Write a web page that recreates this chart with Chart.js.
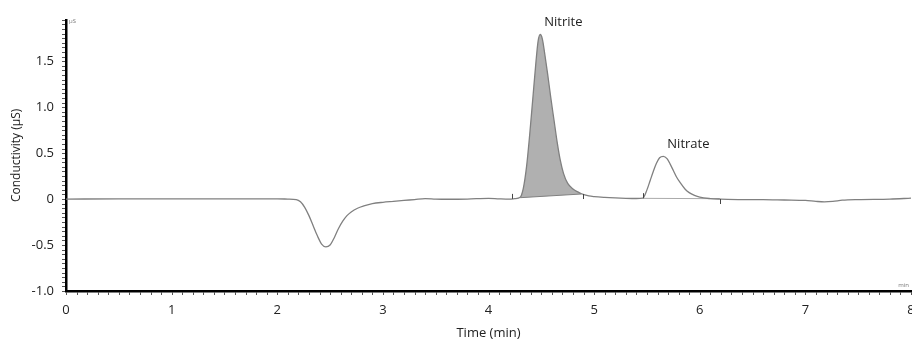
<!DOCTYPE html>
<html>
<head>
<meta charset="utf-8">
<script src="https://cdn.jsdelivr.net/npm/chart.js@4.4.1/dist/chart.umd.min.js"></script>
<style>
  html, body { margin: 0; background: #fff; }
</style>
</head>
<body>
<canvas id="chrom" width="912" height="341"></canvas>
<script>
// chromatogram (time in min, conductivity in µS)
const times = [
  0, 0.5, 1.0, 1.5, 2.0, 2.1, 2.18, 2.22, 2.26, 2.30, 2.34, 2.38, 2.42, 2.46, 2.50,
  2.54, 2.58, 2.62, 2.66, 2.70, 2.76, 2.82, 2.90, 3.0, 3.1, 3.2, 3.3, 3.4, 3.5, 3.6,
  3.8, 4.0, 4.1, 4.2, 4.25, 4.30, 4.33, 4.36, 4.39, 4.42, 4.45, 4.47, 4.49, 4.51, 4.53,
  4.56, 4.59, 4.62, 4.65, 4.68, 4.71, 4.75, 4.80, 4.85, 4.88, 4.95, 5.0, 5.1, 5.2, 5.3,
  5.4, 5.46, 5.50, 5.53, 5.56, 5.59, 5.62, 5.655, 5.69, 5.72, 5.75, 5.78, 5.82, 5.86, 5.90,
  5.95, 6.0, 6.1, 6.2, 6.4, 6.6, 6.8, 7.0, 7.1, 7.18, 7.26, 7.35, 7.5, 7.8, 8.0
];
const signal = [
  0, 0.002, 0.003, 0.002, 0.002, 0.0, -0.005, -0.03, -0.09, -0.18, -0.29, -0.40, -0.49, -0.52, -0.50,
  -0.42, -0.32, -0.24, -0.18, -0.14, -0.10, -0.075, -0.05, -0.035, -0.025, -0.015, -0.005, 0.005, 0.0, -0.002,
  0.0, 0.008, 0.003, 0.0, 0.005, 0.02, 0.12, 0.35, 0.70, 1.10, 1.50, 1.72, 1.79, 1.74, 1.60,
  1.36, 1.10, 0.86, 0.62, 0.42, 0.28, 0.17, 0.11, 0.075, 0.058, 0.035, 0.027, 0.018, 0.012, 0.008,
  0.006, 0.01, 0.10, 0.20, 0.30, 0.39, 0.45, 0.465, 0.44, 0.38, 0.31, 0.24, 0.17, 0.11, 0.07,
  0.04, 0.02, 0.005, 0.0, -0.005, -0.005, -0.01, -0.015, -0.025, -0.03, -0.025, -0.012, -0.005, 0.0, 0.01
];

const xTicks = [0, 1, 2, 3, 4, 5, 6, 7, 8];
const yTicks = [-1.0, -0.5, 0, 0.5, 1.0, 1.5];

// integration windows and peak names
const peakNames = ['Nitrite', 'Nitrate'];
const peakStarts = [4.22, 5.46];
const peakEnds = [4.89, 6.19];

// drawn integration baselines
const nitriteBaseT = [4.30, 4.88];
const nitriteBaseV = [0.015, 0.055];
const nitrateBaseT = [5.46, 6.19];
const nitrateBaseV = [0.008, 0.004];

const pts = (ts, vs) => ts.map((t, i) => ({ x: t, y: vs[i] }));
const trace = pts(times, signal);
const nitriteArea = trace.filter(p => p.x >= nitriteBaseT[0] && p.x <= nitriteBaseT[1]);

const FONT = '"Open Sans", "Segoe UI", sans-serif';
const LINE = 'rgb(128,128,128)';

const decor = {
  id: 'decor',
  afterDraw(chart) {
    const { ctx, chartArea: a, scales: { x, y } } = chart;
    ctx.save();
    // minor ticks
    ctx.strokeStyle = '#555';
    ctx.lineWidth = 1;
    ctx.beginPath();
    for (let k = 0; k <= 80; k++) {
      const px = Math.round(x.getPixelForValue(k / 10)) + 0.5;
      ctx.moveTo(px, a.bottom + 1);
      ctx.lineTo(px, a.bottom + 4);
    }
    for (let k = -20; k <= 39; k++) {
      const py = Math.round(y.getPixelForValue(k / 20)) + 0.5;
      ctx.moveTo(a.left - 1, py);
      ctx.lineTo(a.left - 4, py);
    }
    ctx.stroke();

    // integration markers
    ctx.strokeStyle = '#444';
    ctx.beginPath();
    const valAt = t => {
      let i = times.findIndex(v => v >= t);
      if (i <= 0) return signal[0];
      const f = (t - times[i - 1]) / (times[i] - times[i - 1]);
      return signal[i - 1] + f * (signal[i] - signal[i - 1]);
    };
    peakStarts.forEach(t => {
      const px = Math.round(x.getPixelForValue(t)) + 0.5;
      const py = y.getPixelForValue(valAt(t));
      ctx.moveTo(px, py); ctx.lineTo(px, py - 5);
    });
    peakEnds.forEach(t => {
      const px = Math.round(x.getPixelForValue(t)) + 0.5;
      const py = y.getPixelForValue(valAt(t));
      ctx.moveTo(px, py); ctx.lineTo(px, py + 5);
    });
    ctx.stroke();

    // peak names
    ctx.fillStyle = '#222';
    ctx.font = '13px ' + FONT;
    ctx.textAlign = 'left';
    ctx.textBaseline = 'bottom';
    peakNames.forEach((name, j) => {
      let best = null;
      trace.forEach(p => {
        if (p.x >= peakStarts[j] && p.x <= peakEnds[j] && (!best || p.y > best.y)) best = p;
      });
      ctx.fillText(name, x.getPixelForValue(best.x) + 4, y.getPixelForValue(best.y) - 6);
    });

    // unit labels at axis ends
    ctx.fillStyle = '#777';
    ctx.font = '6px ' + FONT;
    ctx.textBaseline = 'top';
    ctx.fillText('µS', a.left + 3, a.top - 2);
    ctx.textAlign = 'right';
    ctx.textBaseline = 'bottom';
    ctx.fillText('min', a.right - 2, a.bottom - 3);
    ctx.restore();
  }
};

new Chart(document.getElementById('chrom'), {
  type: 'line',
  data: {
    datasets: [
      { data: nitriteArea, borderWidth: 0, pointRadius: 0, fill: 2, order: 3,
        backgroundColor: 'rgb(176,176,176)', cubicInterpolationMode: 'monotone' },
      { data: trace, borderColor: LINE, borderWidth: 1.3, pointRadius: 0, fill: false, order: 1,
        cubicInterpolationMode: 'monotone' },
      { data: pts(nitriteBaseT, nitriteBaseV), borderColor: LINE, borderWidth: 1, pointRadius: 0, fill: false, order: 2 },
      { data: pts(nitrateBaseT, nitrateBaseV), borderColor: 'rgb(170,170,170)', borderWidth: 1, pointRadius: 0, fill: false, order: 2 }
    ]
  },
  options: {
    responsive: false,
    animation: false,
    layout: { padding: { top: 17, right: 1, left: 0, bottom: 0 } },
    plugins: { legend: { display: false }, tooltip: { enabled: false } },
    scales: {
      x: {
        type: 'linear', min: 0, max: 8,
        afterBuildTicks: s => { s.ticks = xTicks.map(v => ({ value: v })); },
        afterFit: s => { s.height = 50; s.paddingRight = 0; s.paddingLeft = 0; },
        grid: { display: false, drawTicks: false },
        border: { display: true, color: '#000', width: 2.5 },
        ticks: { padding: 11, color: '#222', font: { family: FONT, size: 13 }, maxRotation: 0,
                 callback: v => String(v) },
        title: { display: true, text: 'Time (min)', color: '#222', font: { family: FONT, size: 13 },
                 padding: { top: 0, bottom: 0 } }
      },
      y: {
        min: -1.0, max: 1.95,
        afterBuildTicks: s => { s.ticks = yTicks.map(v => ({ value: v })); },
        afterFit: s => { s.width = 66; },
        grid: { display: false, drawTicks: false },
        border: { display: true, color: '#000', width: 2.5 },
        ticks: { padding: 12, color: '#222', font: { family: FONT, size: 13 },
                 callback: v => (v === 0 ? '0' : v.toFixed(1)) },
        title: { display: true, text: 'Conductivity (µS)', color: '#222', font: { family: FONT, size: 12 },
                 padding: { top: 9, bottom: 0 } }
      }
    }
  },
  plugins: [decor]
});
</script>
</body>
</html>
